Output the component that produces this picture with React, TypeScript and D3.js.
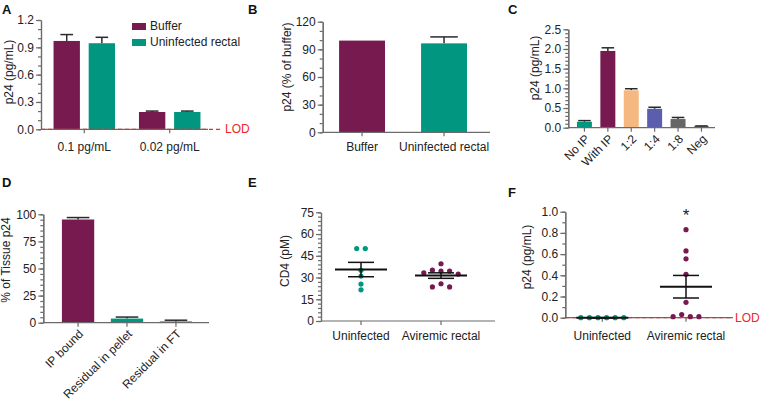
import * as d3 from "d3";
import { useEffect, useRef } from "react";

const FONT = "'Liberation Sans', Arial, Helvetica, sans-serif";
const AXIS = "#6b6b6b";
const PURPLE = "#761a50";
const TEAL = "#00967f";
const RED = "#f0282a";

// panel A
const aGroups = ["0.1 pg/mL", "0.02 pg/mL"];
const aSeries = ["Buffer", "Uninfected rectal"];
const aBuffer = [0.97, 0.19];
const aBufferErr = [1.04, 0.2];
const aRectal = [0.945, 0.19];
const aRectalErr = [1.01, 0.2];

// panel B
const bCats = ["Buffer", "Uninfected rectal"];
const bVals = [99.5, 96.5];
const bErr = [99.5, 103.5];

// panel C
const cCats = ["No IP", "With IP", "1:2", "1:4", "1:8", "Neg"];
const cVals = [0.15, 1.95, 0.95, 0.48, 0.22, 0.03];
const cErr = [0.18, 2.03, 0.99, 0.52, 0.26, 0.045];
const cColors = [TEAL, PURPLE, "#f5b880", "#5a5eac", "#666666", "#151515"];

// panel D
const dCats = ["IP bound", "Residual in pellet", "Residual in FT"];
const dVals = [95.2, 3.8, 1];
const dErr = [97, 5.2, 2.3];
const dColors = [PURPLE, TEAL, "#151515"];

// panel E
const eGroups = ["Uninfected", "Aviremic rectal"];
const eUninf = [50, 50, 35, 31, 25.5, 21.5];
const eAvir = [33.3, 35.1, 34.5, 34.5, 32.4, 39.5, 23.5, 25.7, 23.5];

// panel F
const fGroups = ["Uninfected", "Aviremic rectal"];
const fUninf = [0, 0, 0, 0, 0, 0];
const fAvir = [0.83, 0.63, 0.555, 0.41, 0.145, 0.01, 0.03, 0.01, 0.01];

type Scale = d3.ScaleLinear<number, number>;

function YAxis({ y, x, ticks, minorStep, fmt }: { y: Scale; x: number; ticks: number[]; minorStep: number; fmt: (v: number) => string }) {
  const ref = useRef<SVGGElement>(null);
  useEffect(() => {
    const g = d3.select(ref.current);
    g.selectAll("*").remove();
    const [d0, d1] = y.domain();
    const minor = d3.range(d0, d1 + minorStep / 2, minorStep);
    g.append("g").call(d3.axisLeft(y).tickValues(minor).tickSize(3).tickSizeOuter(0).tickFormat(() => ""));
    g.append("g").call(
      d3.axisLeft(y).tickValues(ticks).tickSize(5).tickSizeOuter(0).tickPadding(2).tickFormat((v) => fmt(+v))
    );
    g.selectAll("path.domain, line").attr("stroke", AXIS).attr("stroke-width", 1.2);
    g.selectAll("text").attr("font-family", FONT).attr("font-size", 12).attr("fill", "#222");
  });
  return <g ref={ref} transform={`translate(${x},0)`} />;
}

function XAxis({ x0, x1, y0, centers }: { x0: number; x1: number; y0: number; centers: number[] }) {
  return (
    <g stroke={AXIS} strokeWidth={1.2}>
      <line x1={x0} x2={x1} y1={y0} y2={y0} />
      {centers.map((c, i) => (
        <line key={i} x1={c} x2={c} y1={y0} y2={y0 + 4} />
      ))}
    </g>
  );
}

function Letter({ t, x, y }: { t: string; x: number; y: number }) {
  return (
    <text x={x} y={y} fontFamily={FONT} fontWeight="bold" fontSize={13} fill="#111">
      {t}
    </text>
  );
}

function YLabel({ t, x, y }: { t: string; x: number; y: number }) {
  return (
    <text transform={`translate(${x},${y}) rotate(-90)`} textAnchor="middle" fontFamily={FONT} fontSize={12} fill="#222">
      {t}
    </text>
  );
}

function ErrCap({ cx, yTop, yErr, half }: { cx: number; yTop: number; yErr: number; half: number }) {
  if (yErr >= yTop - 0.5) return null;
  return (
    <g stroke="#2a2a2a" strokeWidth={1.5}>
      <line x1={cx} x2={cx} y1={yTop} y2={yErr} />
      <line x1={cx - half} x2={cx + half} y1={yErr} y2={yErr} />
    </g>
  );
}

function PanelA() {
  const y = d3.scaleLinear([0, 1.2], [129.3, 20]);
  const x0 = d3.scaleBand(aGroups, [45, 209]).paddingInner(0.28).paddingOuter(0.1);
  const x1 = d3.scaleBand(aSeries, [0, x0.bandwidth()]).paddingInner(0.25);
  const series = [
    { name: aSeries[0], vals: aBuffer, errs: aBufferErr, color: PURPLE },
    { name: aSeries[1], vals: aRectal, errs: aRectalErr, color: TEAL },
  ];
  const y0 = y(0);
  return (
    <g>
      <Letter t="A" x={2} y={14} />
      {aGroups.map((gname, gi) =>
        series.map((s) => {
          const bx = (x0(gname) ?? 0) + (x1(s.name) ?? 0);
          const bw = x1.bandwidth();
          return (
            <g key={gname + s.name}>
              <ErrCap cx={bx + bw / 2} yTop={y(s.vals[gi])} yErr={y(s.errs[gi])} half={bw * 0.24} />
              <rect x={bx} y={y(s.vals[gi])} width={bw} height={y0 - y(s.vals[gi])} fill={s.color} />
            </g>
          );
        })
      )}
      <XAxis x0={41} x1={208} y0={y0} centers={aGroups.map((g) => (x0(g) ?? 0) + x0.bandwidth() / 2)} />
      <YAxis y={y} x={41} ticks={[0, 0.3, 0.6, 0.9, 1.2]} minorStep={0.1} fmt={d3.format(".1f")} />
      <line x1={41} x2={221} y1={y0} y2={y0} stroke={RED} strokeWidth={1.3} strokeDasharray="4,3" />
      <text x={225} y={y0 + 4} fontFamily={FONT} fontSize={12} fill={RED}>LOD</text>
      {aGroups.map((g) => (
        <text key={g} x={(x0(g) ?? 0) + x0.bandwidth() / 2} y={151} textAnchor="middle" fontFamily={FONT} fontSize={12} fill="#222">
          {g}
        </text>
      ))}
      {series.map((s, i) => (
        <g key={s.name} transform={`translate(132,${23 + i * 16})`}>
          <rect width={14} height={7} fill={s.color} />
          <text x={18} y={7} fontFamily={FONT} fontSize={12} fill="#222">{s.name}</text>
        </g>
      ))}
      <YLabel t="p24 (pg/mL)" x={13} y={72} />
    </g>
  );
}

interface BarProps {
  letter: string;
  letterPos: [number, number];
  cats: string[];
  vals: number[];
  errs: number[];
  colors: string[];
  yDomain: [number, number];
  yRange: [number, number];
  axisX: number;
  axisEnd: number;
  bandEnd: number;
  pi: number;
  po: number;
  ticks: number[];
  minorStep: number;
  fmt: (v: number) => string;
  yLabel: string;
  yLabelPos: [number, number];
  rotate: boolean;
  labelY: number;
  cap: number;
}

function BarPanel(p: BarProps) {
  const y = d3.scaleLinear(p.yDomain, p.yRange);
  const x = d3.scaleBand(p.cats, [p.axisX, p.bandEnd]).paddingInner(p.pi).paddingOuter(p.po);
  const y0 = y(0);
  const bw = x.bandwidth();
  const cx = (c: string) => (x(c) ?? 0) + bw / 2;
  return (
    <g>
      <Letter t={p.letter} x={p.letterPos[0]} y={p.letterPos[1]} />
      {p.cats.map((c, i) => (
        <g key={c}>
          <ErrCap cx={cx(c)} yTop={y(p.vals[i])} yErr={y(p.errs[i])} half={bw * p.cap} />
          <rect x={x(c)} y={y(p.vals[i])} width={bw} height={y0 - y(p.vals[i])} fill={p.colors[i]} />
        </g>
      ))}
      <XAxis x0={p.axisX} x1={p.axisEnd} y0={y0} centers={p.cats.map(cx)} />
      <YAxis y={y} x={p.axisX} ticks={p.ticks} minorStep={p.minorStep} fmt={p.fmt} />
      {p.cats.map((c) =>
        p.rotate ? (
          <text key={c} transform={`translate(${cx(c) + 3},${y0 + 9}) rotate(-45)`} textAnchor="end" dy="0.35em" fontFamily={FONT} fontSize={12} fill="#222">
            {c}
          </text>
        ) : (
          <text key={c} x={cx(c)} y={p.labelY} textAnchor="middle" fontFamily={FONT} fontSize={12} fill="#222">
            {c}
          </text>
        )
      )}
      <YLabel t={p.yLabel} x={p.yLabelPos[0]} y={p.yLabelPos[1]} />
    </g>
  );
}

// place dots of similar value side by side, rows centred on the group
function swarm(vals: number[], y: Scale, gap: number, rowTol: number) {
  const order = d3.range(vals.length).sort((a, b) => vals[b] - vals[a] || a - b);
  const rows: number[][] = [];
  let startY = -Infinity;
  for (const i of order) {
    const py = y(vals[i]);
    if (rows.length && py - startY <= rowTol) rows[rows.length - 1].push(i);
    else {
      rows.push([i]);
      startY = py;
    }
  }
  const off = new Array(vals.length).fill(0);
  rows.forEach((r) => {
    r.sort((a, b) => a - b);
    r.forEach((idx, k) => (off[idx] = (k - (r.length - 1) / 2) * gap));
  });
  return off;
}

interface ScatterProps {
  letter: string;
  letterPos: [number, number];
  groups: string[];
  data: number[][];
  colors: string[];
  yDomain: [number, number];
  yRange: [number, number];
  axisX: number;
  axisEnd: number;
  pointEnd: number;
  pad: number;
  ticks: number[];
  minorStep: number;
  fmt: (v: number) => string;
  yLabel: string;
  yLabelPos: [number, number];
  labelY: number;
  lod?: boolean;
  star?: number;
}

function ScatterPanel(p: ScatterProps) {
  const y = d3.scaleLinear(p.yDomain, p.yRange);
  const x = d3.scalePoint(p.groups, [p.axisX, p.pointEnd]).padding(p.pad);
  const y0 = y(0);
  return (
    <g>
      <Letter t={p.letter} x={p.letterPos[0]} y={p.letterPos[1]} />
      <XAxis x0={p.axisX} x1={p.axisEnd} y0={y0} centers={p.groups.map((g) => x(g) ?? 0)} />
      <YAxis y={y} x={p.axisX} ticks={p.ticks} minorStep={p.minorStep} fmt={p.fmt} />
      {p.lod && (
        <g>
          <line x1={p.axisX} x2={p.axisEnd} y1={y0} y2={y0} stroke={RED} strokeWidth={1.3} strokeDasharray="4,3" />
          <text x={p.axisEnd + 2} y={y0 + 4} fontFamily={FONT} fontSize={12} fill={RED}>LOD</text>
        </g>
      )}
      {p.groups.map((g, gi) => {
        const vals = p.data[gi];
        const cx = x(g) ?? 0;
        const off = swarm(vals, y, 8.6, 4.5);
        const m = d3.mean(vals) ?? 0;
        const sem = (d3.deviation(vals) ?? 0) / Math.sqrt(vals.length);
        return (
          <g key={g}>
            {vals.map((v, i) => (
              <circle key={i} cx={cx + off[i]} cy={y(v)} r={2.6} fill={p.colors[gi]} />
            ))}
            <g stroke="#111">
              <line x1={cx - 26} x2={cx + 26} y1={y(m)} y2={y(m)} strokeWidth={2} />
              <line x1={cx} x2={cx} y1={y(m + sem)} y2={y(m - sem)} strokeWidth={1.5} />
              <line x1={cx - 13} x2={cx + 13} y1={y(m + sem)} y2={y(m + sem)} strokeWidth={1.5} />
              <line x1={cx - 13} x2={cx + 13} y1={y(m - sem)} y2={y(m - sem)} strokeWidth={1.5} />
            </g>
            <text x={cx} y={p.labelY} textAnchor="middle" fontFamily={FONT} fontSize={12} fill="#222">{g}</text>
          </g>
        );
      })}
      {p.star !== undefined && (
        <text x={x(p.groups[p.star])} y={221} textAnchor="middle" fontFamily={FONT} fontSize={17} fill="#222">*</text>
      )}
      <YLabel t={p.yLabel} x={p.yLabelPos[0]} y={p.yLabelPos[1]} />
    </g>
  );
}

export default function App() {
  return (
    <svg width={760} height={403} style={{ position: "absolute", left: 0, top: 0, background: "#fff" }}>
      <PanelA />
      <BarPanel
        letter="B" letterPos={[248, 14]} cats={bCats} vals={bVals} errs={bErr} colors={[PURPLE, TEAL]}
        yDomain={[0, 120]} yRange={[132.3, 21.7]} axisX={322.7} axisEnd={490} bandEnd={483.4} pi={0.44} po={0.2}
        ticks={[0, 30, 60, 90, 120]} minorStep={10} fmt={d3.format("d")} yLabel="p24 (% of buffer)" yLabelPos={[291, 67]}
        rotate={false} labelY={151} cap={0.3}
      />
      <BarPanel
        letter="C" letterPos={[508, 14]} cats={cCats} vals={cVals} errs={cErr} colors={cColors}
        yDomain={[0, 2.5]} yRange={[127.7, 29.3]} axisX={568.3} axisEnd={715} bandEnd={717.6} pi={0.36} po={0.37}
        ticks={[0, 0.5, 1, 1.5, 2, 2.5]} minorStep={0.1} fmt={d3.format(".1f")} yLabel="p24 (pg/mL)" yLabelPos={[539, 68]}
        rotate={true} labelY={0} cap={0.42}
      />
      <BarPanel
        letter="D" letterPos={[2, 187]} cats={dCats} vals={dVals} errs={dErr} colors={dColors}
        yDomain={[0, 100]} yRange={[322.7, 214.3]} axisX={43.3} axisEnd={209} bandEnd={210.7} pi={0.34} po={0.38}
        ticks={[0, 25, 50, 75, 100]} minorStep={5} fmt={d3.format("d")} yLabel="% of Tissue p24" yLabelPos={[10, 260]}
        rotate={true} labelY={0} cap={0.35}
      />
      <ScatterPanel
        letter="E" letterPos={[248, 187]} groups={eGroups} data={[eUninf, eAvir]} colors={[TEAL, PURPLE]}
        yDomain={[0, 75]} yRange={[321, 212.3]} axisX={321} axisEnd={495} pointEnd={481} pad={0.5}
        ticks={[0, 15, 30, 45, 60, 75]} minorStep={3} fmt={d3.format("d")} yLabel="CD4 (pM)" yLabelPos={[289, 261]}
        labelY={340}
      />
      <ScatterPanel
        letter="F" letterPos={[508, 197]} groups={fGroups} data={[fUninf, fAvir]} colors={[TEAL, PURPLE]}
        yDomain={[0, 1]} yRange={[317.7, 211.7]} axisX={565.3} axisEnd={733} pointEnd={723} pad={0.442}
        ticks={[0, 0.2, 0.4, 0.6, 0.8, 1]} minorStep={0.1} fmt={d3.format(".1f")} yLabel="p24 (pg/mL)" yLabelPos={[531, 257]}
        labelY={340} lod={true} star={1}
      />
    </svg>
  );
}
